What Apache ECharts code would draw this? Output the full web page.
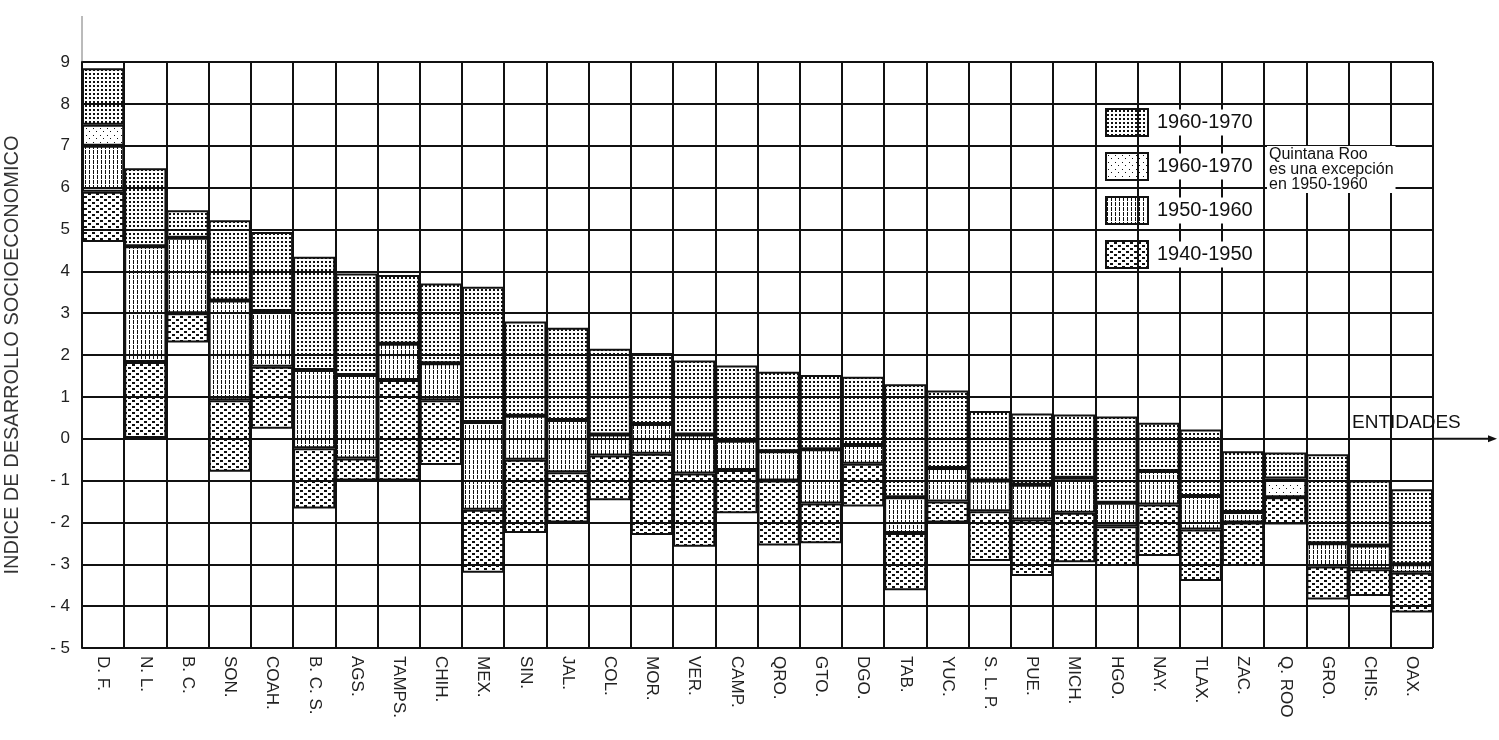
<!DOCTYPE html>
<html>
<head>
<meta charset="utf-8">
<script src="https://cdn.jsdelivr.net/npm/echarts@6/dist/echarts.min.js"></script>
<style>
  html, body { margin: 0; padding: 0; background: #fff; }
  #chart { width: 1499px; height: 740px; }
</style>
</head>
<body>
<div id="chart"></div>
<script>
  "use strict";
  var categories = ['D. F.', 'N. L.', 'B. C.', 'SON.', 'COAH.', 'B. C. S.', 'AGS.', 'TAMPS.', 'CHIH.', 'MEX.',
    'SIN.', 'JAL.', 'COL.', 'MOR.', 'VER.', 'CAMP.', 'QRO.', 'GTO.', 'DGO.', 'TAB.', 'YUC.', 'S. L. P.',
    'PUE.', 'MICH.', 'HGO.', 'NAY.', 'TLAX.', 'ZAC.', 'Q. ROO', 'GRO.', 'CHIS.', 'OAX.'];
  // index value per state at each census year
  var idx1940 = [4.7, 0.02, 2.3, -0.79, 0.24, -1.67, -1.0, -1.0, -0.63, -3.2, -2.25, -2.0, -1.47, -2.3, -2.58, -1.78,
    -2.55, -2.5, -1.62, -3.62, -2.0, -2.92, -3.28, -2.95, -3.04, -2.8, -3.4, -3.04, -2.05, -3.84, -3.76, -4.15];
  var idx1950 = [5.9, 1.83, 3.0, 0.92, 1.72, -0.23, -0.47, 1.4, 0.92, -1.7, -0.5, -0.8, -0.4, -0.36, -0.83, -0.75,
    -1.0, -1.55, -0.6, -2.25, -1.5, -1.73, -1.93, -1.77, -2.09, -1.57, -2.17, -2.0, -1.4, -3.05, -3.12, -3.2];
  var idx1960 = [7.0, 4.6, 4.8, 3.3, 3.05, 1.64, 1.52, 2.27, 1.8, 0.4, 0.55, 0.45, 0.1, 0.35, 0.1, -0.05,
    -0.3, -0.25, -0.15, -1.4, -0.7, -1.0, -1.1, -0.93, -1.53, -0.77, -1.37, -1.75, -1.4, -2.5, -2.55, -3.0];
  // top of the lighter shaded band (same as 1960 where there is none)
  var idxLight = [7.5, 4.6, 4.8, 3.3, 3.05, 1.64, 1.52, 2.27, 1.8, 0.4, 0.55, 0.45, 0.1, 0.35, 0.1, -0.05,
    -0.3, -0.25, -0.15, -1.4, -0.7, -1.0, -1.1, -0.93, -1.53, -0.77, -1.37, -1.75, -0.95, -2.5, -2.55, -3.0];
  var idx1970 = [8.85, 6.46, 5.46, 5.22, 4.94, 4.35, 3.95, 3.91, 3.71, 3.63, 2.8, 2.65, 2.15, 2.05, 1.87, 1.75,
    1.6, 1.52, 1.48, 1.3, 1.15, 0.66, 0.6, 0.58, 0.53, 0.38, 0.22, -0.3, -0.33, -0.37, -1.0, -1.21];
  var yTicks = [-5, -4, -3, -2, -1, 0, 1, 2, 3, 4, 5, 6, 7, 8, 9];

  function diff(a, b) {
    return b.map(function (v, i) { return +(v - a[i]).toFixed(2); });
  }

  /*----hatch patterns----*/
  function pattern(w, h, draw) {
    var c = document.createElement('canvas');
    c.width = w; c.height = h;
    var g = c.getContext('2d');
    g.fillStyle = '#111';
    draw(g);
    return { image: c, repeat: 'repeat' };
  }
  var patDense = pattern(4, 4, function (g) { g.fillRect(1, 1, 2, 2); });
  var patLight = pattern(7, 7, function (g) { g.fillRect(2, 2, 1, 1); g.fillRect(5, 5, 1, 1); });
  var patVert = pattern(4, 5, function (g) { g.fillRect(1, 0, 1, 4); });
  var patDash = pattern(8, 6, function (g) { g.fillRect(0, 1, 3, 2); g.fillRect(4, 4, 3, 2); });

  var font = 'Liberation Sans, Arial, sans-serif';

  function seg(name, data, color) {
    return {
      name: name,
      type: 'bar',
      stack: 'idx',
      stackStrategy: 'all',
      barWidth: '100%',
      data: data,
      itemStyle: { color: color, borderColor: '#111', borderWidth: 2 },
      emphasis: { disabled: true }
    };
  }

  var option = {
    animation: false,
    backgroundColor: '#fff',
    grid: { left: 82, right: 66, top: 62, bottom: 92, containLabel: false, outerBoundsMode: 'none' },
    legend: {
      orient: 'vertical',
      left: 1100,
      top: 103,
      icon: 'rect',
      itemWidth: 42,
      itemHeight: 27,
      itemGap: 15,
      data: ['1960-1970', '1960-1970 ', '1950-1960', '1940-1950'],
      formatter: function (n) { return n.trim(); },
      textStyle: { fontFamily: font, fontSize: 20, color: '#111', backgroundColor: '#fff', padding: [3, 4] },
      selectedMode: false
    },
    xAxis: {
      type: 'category',
      data: categories,
      boundaryGap: true,
      axisLine: { show: false },
      axisTick: { show: false },
      splitLine: { show: true, interval: 0, lineStyle: { color: '#111', width: 2 } },
      axisLabel: {
        interval: 0, rotate: -90, margin: 8,
        fontFamily: font, fontSize: 17, color: '#222'
      }
    },
    yAxis: {
      type: 'value',
      min: yTicks[0],
      max: yTicks[yTicks.length - 1],
      interval: 1,
      name: 'INDICE DE DESARROLLO SOCIOECONOMICO',
      nameLocation: 'middle',
      nameGap: 60,
      nameRotate: 90,
      nameTextStyle: { fontFamily: font, fontSize: 20, color: '#333' },
      axisLine: { show: true, lineStyle: { color: '#111', width: 2 } },
      axisTick: { show: false },
      splitLine: { show: true, lineStyle: { color: '#111', width: 2 } },
      axisLabel: {
        margin: 12, fontFamily: font, fontSize: 17, color: '#222',
        formatter: function (v) { return v < 0 ? '- ' + (-v) : String(v); }
      }
    },
    series: [
      {
        name: 'base', type: 'bar', stack: 'idx', stackStrategy: 'all', barWidth: '100%',
        data: idx1940, silent: true,
        itemStyle: { color: 'rgba(0,0,0,0)' }
      },
      seg('1940-1950', diff(idx1940, idx1950), patDash),
      seg('1950-1960', diff(idx1950, idx1960), patVert),
      seg('1960-1970 ', diff(idx1960, idxLight), patLight),
      seg('1960-1970', diff(idxLight, idx1970), patDense)
    ]
  };

  var chart = echarts.init(document.getElementById('chart'), null, { renderer: 'canvas' });
  chart.setOption(option);

  // decorations: zero-line arrow, axis arrow, labels
  var y0 = chart.convertToPixel({ yAxisIndex: 0 }, 0);
  var yTop = chart.convertToPixel({ yAxisIndex: 0 }, 9);
  var xLeft = chart.convertToPixel({ xAxisIndex: 0 }, 0) - (chart.convertToPixel({ xAxisIndex: 0 }, 1) - chart.convertToPixel({ xAxisIndex: 0 }, 0)) / 2;
  var xRight = 1499 - 66;
  chart.setOption({
    graphic: [
      { type: 'line', shape: { x1: xRight, y1: y0, x2: 1490, y2: y0 }, style: { stroke: '#111', lineWidth: 2 } },
      { type: 'polygon', shape: { points: [[1497, y0], [1488, y0 - 3.5], [1488, y0 + 3.5]] }, style: { fill: '#111' } },
      { type: 'line', shape: { x1: xLeft, y1: 16, x2: xLeft, y2: yTop }, style: { stroke: '#777', lineWidth: 1 } },
      {
        type: 'text', left: 1352, top: y0 - 25,
        style: { text: 'ENTIDADES', font: '19px ' + font, fill: '#111' }
      },
      {
        type: 'text', left: 1267, top: 146,
        style: {
          text: 'Quintana Roo\nes una excepción\nen 1950-1960',
          font: '16px ' + font, fill: '#111', lineHeight: 15,
          backgroundColor: '#fff', padding: [1, 2]
        }
      }
    ]
  });
</script>
</body>
</html>
